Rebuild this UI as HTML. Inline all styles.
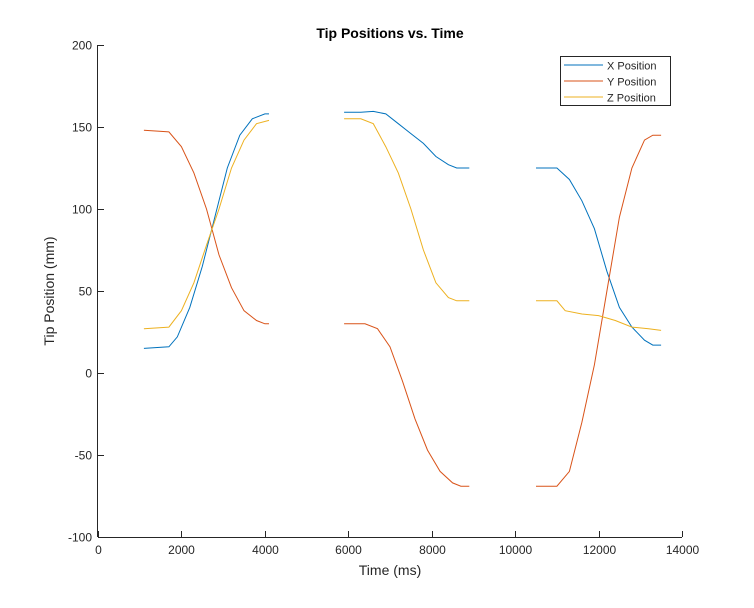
<!DOCTYPE html>
<html><head><meta charset="utf-8"><style>
body{margin:0;background:#fff;}
svg text{font-family:"Liberation Sans","DejaVu Sans",sans-serif;fill:#262626;}
</style></head><body>
<svg id="chart" width="754" height="603" viewBox="0 0 754 603" xmlns="http://www.w3.org/2000/svg">
<rect width="754" height="603" fill="#fff"/>
<text x="390" y="38" text-anchor="middle" font-size="14" font-weight="bold" style="fill:#000">Tip Positions vs. Time</text>
<text x="390" y="575" text-anchor="middle" font-size="14">Time (ms)</text>
<text transform="translate(54,291) rotate(-90)" text-anchor="middle" font-size="14">Tip Position (mm)</text>
<g id="axes"></g>
<g id="series"></g>
<g>
<rect x="560.5" y="56.5" width="110" height="49" fill="#fff" stroke="#262626" stroke-width="1"/>
<line x1="564" y1="65" x2="603" y2="65" stroke="#0072BD"/>
<text x="607" y="69.5" font-size="11">X Position</text>
<line x1="564" y1="81" x2="603" y2="81" stroke="#D95319"/>
<text x="607" y="85.5" font-size="11">Y Position</text>
<line x1="564" y1="97" x2="603" y2="97" stroke="#EDB120"/>
<text x="607" y="101.5" font-size="11">Z Position</text>
</g>
</svg>
<script>
const xTicks=[0,2000,4000,6000,8000,10000,12000,14000];
const yTicks=[-100,-50,0,50,100,150,200];
const xSeg1=[[1100,15],[1700,16],[1900,22],[2200,40],[2500,65],[2800,95],[3100,125],[3400,145],[3700,155],[4000,158],[4100,158]];
const xSeg2=[[5900,159],[6300,159],[6600,159.5],[6900,158],[7200,152],[7500,146],[7800,140],[8100,132],[8400,127],[8600,125],[8900,125]];
const xSeg3=[[10500,125],[11000,125],[11300,118],[11600,105],[11900,88],[12200,62],[12500,40],[12800,28],[13100,20],[13300,17],[13500,17]];
const ySeg1=[[1100,148],[1700,147],[2000,138],[2300,122],[2600,100],[2900,72],[3200,52],[3500,38],[3800,32],[4000,30],[4100,30]];
const ySeg2=[[5900,30],[6400,30],[6700,27],[7000,16],[7300,-5],[7600,-28],[7900,-47],[8200,-60],[8500,-67],[8700,-69],[8900,-69]];
const ySeg3=[[10500,-69],[11000,-69],[11300,-60],[11600,-30],[11900,5],[12200,50],[12500,95],[12800,125],[13100,142],[13300,145],[13500,145]];
const zSeg1=[[1100,27],[1700,28],[2000,38],[2300,55],[2600,78],[2900,100],[3200,125],[3500,142],[3800,152],[4100,154]];
const zSeg2=[[5900,155],[6300,155],[6600,152],[6900,138],[7200,122],[7500,100],[7800,75],[8100,55],[8400,46],[8600,44],[8900,44]];
const zSeg3=[[10500,44],[11000,44],[11200,38],[11600,36],[12000,35],[12400,32],[12800,28],[13200,27],[13500,26]];

const NS="http://www.w3.org/2000/svg";
const L=98,R=682,T=45,B=537;
function sx(v){return L+(v-0)/14000*(R-L);}
function sy(v){return B-(v+100)/300*(B-T);}
const axes=document.getElementById('axes');
function mk(tag,attrs,parent){const e=document.createElementNS(NS,tag);for(const k in attrs)e.setAttribute(k,attrs[k]);parent.appendChild(e);return e;}
const xl=mk('line',{x1:L,y1:B+.5,x2:R,y2:B+.5,stroke:'#262626'},axes);


const yl=mk('line',{x1:L-.5,y1:T,x2:L-.5,y2:B,stroke:'#262626'},axes);


xTicks.forEach(t=>{
  const x=Math.round(sx(t))+.5;
  mk('line',{x1:x,y1:B,x2:x,y2:B-6,stroke:'#262626'},axes);
  const tx=mk('text',{x:x,y:B+17,'text-anchor':'middle','font-size':'12'},axes);
  tx.textContent=t;
  
  
});
yTicks.forEach(t=>{
  const y=Math.round(sy(t))+.5;
  mk('line',{x1:L,y1:y,x2:L+6,y2:y,stroke:'#262626'},axes);
  const tx=mk('text',{x:L-6,y:y+4,'text-anchor':'end','font-size':'12'},axes);
  tx.textContent=t;
  
  
});
const ser=document.getElementById('series');
const defs=[['x-position',"#0072BD",[xSeg1,xSeg2,xSeg3]],['y-position',"#D95319",[ySeg1,ySeg2,ySeg3]],['z-position',"#EDB120",[zSeg1,zSeg2,zSeg3]]];
defs.forEach(([name,col,segs])=>{
  segs.forEach((seg,i)=>{
    const p=mk('polyline',{points:seg.map(d=>sx(d[0]).toFixed(1)+','+sy(d[1]).toFixed(1)).join(' '),fill:'none',stroke:col,'stroke-width':'1'},ser);
    
    
  });
});
</script>
</body></html>
